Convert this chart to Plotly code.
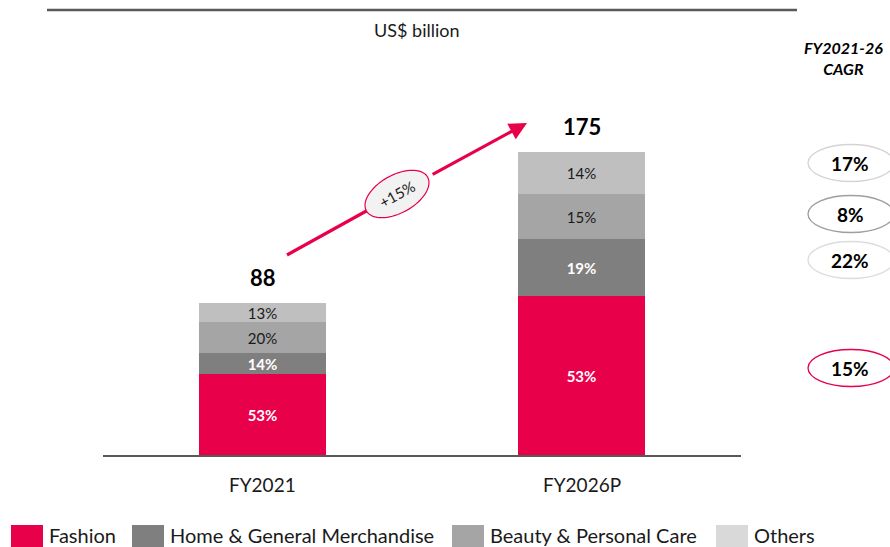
import numpy as np
import plotly.graph_objects as go

# ---------------- data ----------------
categories = ["FY2021", "FY2026P"]
totals = [88, 175]
series_names = ["Fashion", "Home & General Merchandise", "Beauty & Personal Care", "Others"]
fashion_share = [53, 53]
home_share = [14, 19]
beauty_share = [20, 15]
others_share = [13, 14]
cagr_labels = ["15%", "8%", "22%", "17%"]   # Fashion, Home, Beauty, Others
total_cagr_label = "+15%"
unit_label = "US$ billion"
cagr_header = "FY2021-26<br>CAGR"

# ---------------- styling ----------------
FONT = "Lato"
W, H = 890, 547
L, R, T, B = 103, 741, 100, 455
bar_colors = ["#E8004B", "#7F7F7F", "#A5A5A5", "#BFBFBF"]
legend_colors = ["#E8004B", "#7F7F7F", "#A5A5A5", "#D9D9D9"]
text_colors = ["white", "white", "#1a1a1a", "#1a1a1a"]
bold = [True, True, False, False]

def px(x):
    return (x - L) / (R - L)

def py(y):
    return (B - y) / (B - T)

shares = [fashion_share, home_share, beauty_share, others_share]
sums = [sum(s[i] for s in shares) for i in range(len(categories))]

fig = go.Figure()
for k, name in enumerate(series_names):
    vals = [shares[k][i] / sums[i] * totals[i] for i in range(len(categories))]
    tmpl = "<b>%{customdata}%</b>" if bold[k] else "%{customdata}%"
    fig.add_trace(go.Bar(
        x=categories, y=vals, name=name, customdata=shares[k],
        marker=dict(color=bar_colors[k], line=dict(width=0)),
        texttemplate=tmpl, textposition="inside", insidetextanchor="middle",
        textangle=0, constraintext="none",
        textfont=dict(family=FONT, size=15, color=text_colors[k]),
        showlegend=False, hoverinfo="skip",
    ))

ymax = (B - T) / (303 / 175)

annotations = []
shapes = []

def ann(x, y, text, size, color="#1a1a1a", xanchor="center", yanchor="middle", **kw):
    d = dict(x=x, y=y, xref="paper", yref="paper", text=text, showarrow=False,
             xanchor=xanchor, yanchor=yanchor,
             font=dict(family=FONT, size=size, color=color))
    d.update(kw)
    annotations.append(d)

# totals above bars
for c, t in zip(categories, totals):
    annotations.append(dict(x=c, y=t, xref="x", yref="y", text=f"<b>{t}</b>",
                            showarrow=False, xanchor="center", yanchor="bottom", yshift=10,
                            font=dict(family=FONT, size=22, color="#000000")))
# category labels
for c in categories:
    annotations.append(dict(x=c, y=py(485), xref="x", yref="paper", text=c,
                            showarrow=False, xanchor="center", yanchor="middle",
                            font=dict(family=FONT, size=19, color="#1a1a1a")))

# unit label
ann(px(417), py(30), unit_label, 18)

# top rule
shapes.append(dict(type="line", xref="paper", yref="paper", x0=px(47), x1=px(797),
                   y0=py(10), y1=py(10), line=dict(color="#595959", width=2.5)))

# growth arrow
x_start, y_start = 287, 255
x_tip, y_tip = 527, 123
ang = np.arctan2(y_start - y_tip, x_tip - x_start)
cx, cy = 397, 194
a_ax, b_ax = 35, 19
shapes.append(dict(type="line", xref="paper", yref="paper",
                   x0=px(x_start), y0=py(y_start), x1=px(cx), y1=py(cy),
                   line=dict(color="#E8004B", width=3.2)))
tt = np.linspace(0, 2 * np.pi, 73)
ex = cx + a_ax * np.cos(tt) * np.cos(ang) + b_ax * np.sin(tt) * np.sin(ang)
ey = cy - a_ax * np.cos(tt) * np.sin(ang) + b_ax * np.sin(tt) * np.cos(ang)
path = "M " + " L ".join(f"{px(x):.5f},{py(y):.5f}" for x, y in zip(ex, ey)) + " Z"
shapes.append(dict(type="path", xref="paper", yref="paper", path=path,
                   fillcolor="#F2F2F2", line=dict(color="#E8004B", width=1.2)))
tail_x = cx + (a_ax + 4) * np.cos(ang)
tail_y = cy - (a_ax + 4) * np.sin(ang)
annotations.append(dict(x=px(x_tip), y=py(y_tip), xref="paper", yref="paper", text="",
                        showarrow=True, axref="pixel", ayref="pixel",
                        ax=tail_x - x_tip, ay=tail_y - y_tip,
                        arrowhead=2, arrowsize=1.1, arrowwidth=3.2, arrowcolor="#E8004B",
                        standoff=0, startstandoff=0))
ann(px(cx), py(cy), total_cagr_label, 15, textangle=-np.degrees(ang))

# CAGR header
ann(px(843), py(58), f"<b><i>{cagr_header}</i></b>", 16, color="#000000")

# CAGR ellipses: Fashion, Home, Beauty, Others
cagr_y = [368, 214, 260, 163]
cagr_line = ["#E8004B", "#9E9E9E", "#DCDCDC", "#D4D4D4"]
for lab, yc, lc in zip(cagr_labels, cagr_y, cagr_line):
    shapes.append(dict(type="circle", xref="paper", yref="paper",
                       x0=px(808), x1=px(894), y0=py(yc - 18.5), y1=py(yc + 18.5),
                       fillcolor="white", line=dict(color=lc, width=1.3)))
    ann(px(850), py(yc), f"<b>{lab}</b>", 19, color="#000000")

# custom legend
leg_sq_x = [11, 132, 452, 716]
for name, col, x0 in zip(series_names, legend_colors, leg_sq_x):
    shapes.append(dict(type="rect", xref="paper", yref="paper",
                       x0=px(x0), x1=px(x0 + 32), y0=py(525), y1=py(552),
                       fillcolor=col, line=dict(width=0)))
    ann(px(x0 + 36), py(535), name, 20, xanchor="left")

fig.update_layout(
    width=W, height=H,
    margin=dict(l=L, r=W - R, t=T, b=H - B),
    barmode="stack", bargap=0.6,
    plot_bgcolor="white", paper_bgcolor="white",
    font=dict(family=FONT),
    showlegend=False,
    xaxis=dict(showticklabels=False, showline=True, linecolor="#595959", linewidth=2,
               showgrid=False, zeroline=False, ticks=""),
    yaxis=dict(range=[0, ymax], visible=False),
    shapes=shapes, annotations=annotations,
)

fig.write_html("out.html", config={"displayModeBar": False},
               post_script="document.body.style.margin='0';")
